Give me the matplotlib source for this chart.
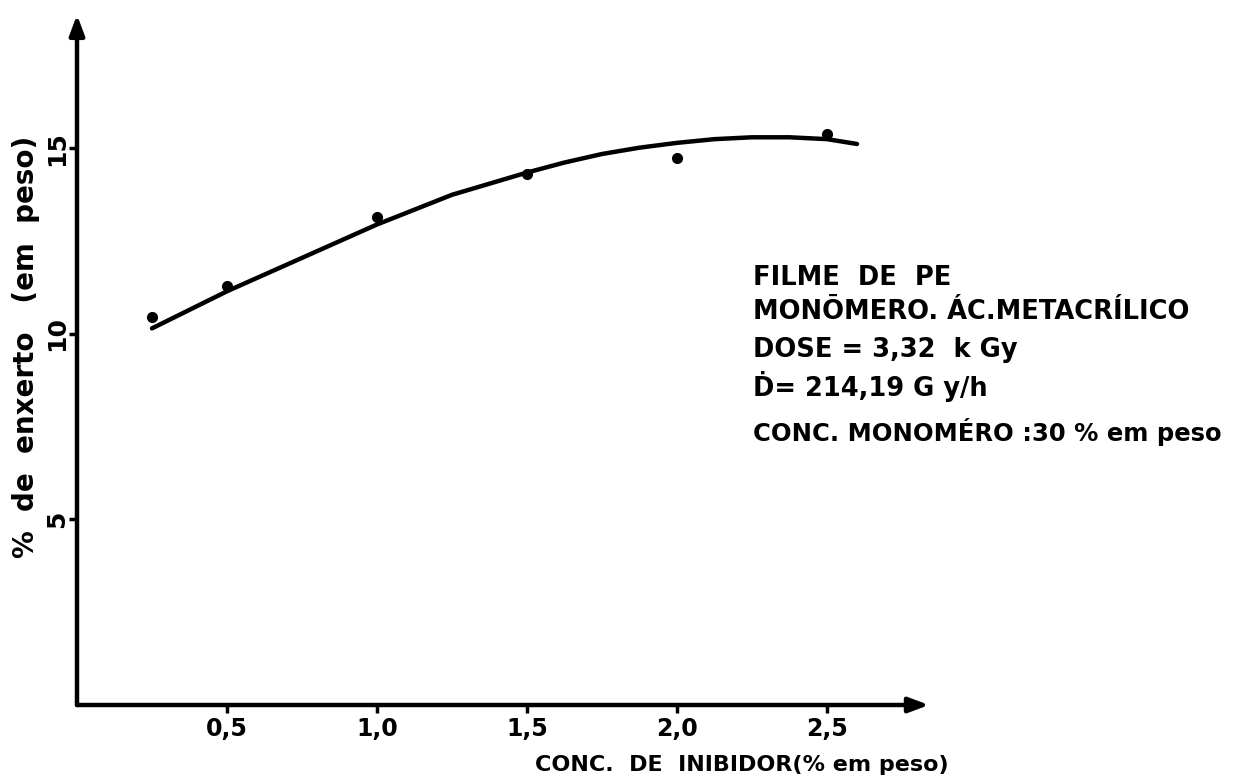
import matplotlib.pyplot as plt

# measured points
conc = [0.25, 0.5, 1.0, 1.5, 2.0, 2.5]
enxerto = [10.45, 11.3, 13.15, 14.3, 14.75, 15.4]

# hand-drawn fitted curve
curve_x = [0.25, 0.375, 0.5, 0.625, 0.75, 0.875, 1.0, 1.125, 1.25, 1.375, 1.5,
           1.625, 1.75, 1.875, 2.0, 2.125, 2.25, 2.375, 2.5, 2.6]
curve_y = [10.15, 10.65, 11.15, 11.6, 12.05, 12.5, 12.95, 13.35, 13.75, 14.05, 14.35,
           14.62, 14.85, 15.02, 15.15, 15.25, 15.3, 15.3, 15.25, 15.12]

xticks = [0.5, 1.0, 1.5, 2.0, 2.5]
xtick_labels = ['0,5', '1,0', '1,5', '2,0', '2,5']
yticks = [5, 10, 15]
ytick_labels = ['5', '10', '15']

info = ['FILME  DE  PE',
        'MONŌMERO. ÁC.METACRÍLICO',
        'DOSE = 3,32  k Gy',
        'Ḋ= 214,19 G y/h',
        'CONC. MONOMÉRO :30 % em peso']
info_y = [278, 312, 350, 387, 432]
info_size = [18.5, 18.5, 18.5, 18.5, 17.5]

plt.rcParams['font.family'] = ['DejaVu Sans']
plt.rcParams['font.weight'] = 'bold'

fig = plt.figure(figsize=(12.36, 7.8), dpi=100)
ax = fig.add_axes([77 / 1236, 75 / 780, 900 / 1236, 705 / 780])
ax.set_xlim(0, 3.0)
ax.set_ylim(0, 19.0)
for s in ax.spines.values():
    s.set_visible(False)

# axes drawn as arrows
arrow = dict(arrowstyle='-|>,head_length=1.2,head_width=0.45', color='black', lw=3.2,
             shrinkA=0, shrinkB=0)
ax.annotate('', xy=(0, 18.6), xytext=(0, 0), arrowprops=arrow)
ax.annotate('', xy=(2.84, 0), xytext=(0, 0), arrowprops=arrow)

ax.plot(curve_x, curve_y, color='black', lw=3.2, solid_capstyle='round',
        solid_joinstyle='round')
ax.plot(conc, enxerto, 'o', color='black', markersize=7)

ax.set_xticks(xticks)
ax.set_xticklabels(xtick_labels, fontsize=17, fontweight='bold')
ax.set_yticks(yticks)
ax.set_yticklabels(ytick_labels, fontsize=18, fontweight='bold', rotation=90, va='center')
ax.tick_params(axis='both', length=6, width=2.5, direction='out')
ax.tick_params(axis='x', pad=3)
ax.tick_params(axis='y', pad=0)

ax.set_xlabel('CONC.  DE  INIBIDOR(% em peso)', fontsize=16, fontweight='bold')
ax.xaxis.set_label_coords(665 / 900, -50 / 705)
ax.set_ylabel('%  de  enxerto   (em  peso)', fontsize=20, fontweight='bold')
ax.yaxis.set_label_coords(-37 / 900, 358 / 705)

for line, yp, fs in zip(info, info_y, info_size):
    fig.text(753 / 1236, 1 - yp / 780, line, fontsize=fs,
             fontweight='bold', va='center', ha='left')

fig.savefig('out.png', dpi=100, facecolor='white')
